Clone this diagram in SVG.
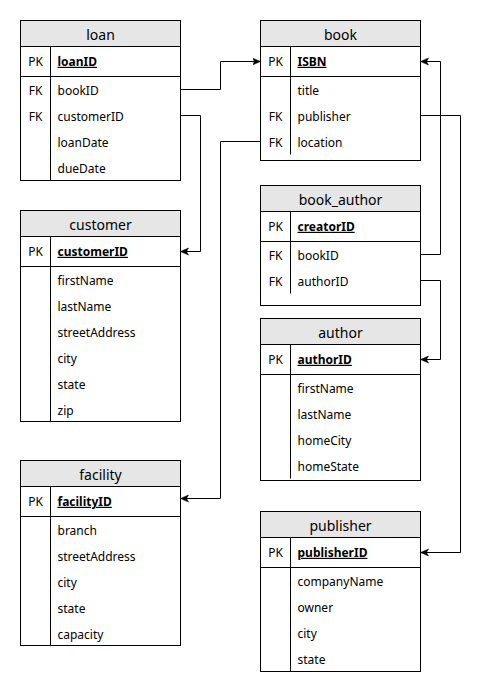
<svg xmlns="http://www.w3.org/2000/svg" width="489" height="694" viewBox="0 0 489 694">
<defs>
<style>
.tb{fill:#ffffff;stroke:#000000;stroke-width:1}
.hd{fill:#e6e6e6;stroke:#000000;stroke-width:1}
.ln{stroke:#000000;stroke-width:1;fill:none}
.title{font-family:"Noto Sans","Open Sans",sans-serif;font-size:14px;fill:#000;text-anchor:middle}
.key{font-family:"Noto Sans","Open Sans",sans-serif;font-size:12px;fill:#000;text-anchor:middle}
.fld{font-family:"Noto Sans","Open Sans",sans-serif;font-size:12px;fill:#000}
.pk{font-family:"Noto Sans","Open Sans",sans-serif;font-size:12px;fill:#000;font-weight:bold;text-decoration:underline}
.conn{stroke:#000000;stroke-width:1;fill:none;marker-end:url(#arr)}
</style>
<marker id="arr" markerUnits="userSpaceOnUse" markerWidth="10" markerHeight="10" viewBox="0 0 10 10" refX="8" refY="5" orient="auto">
<path d="M0,1.5 L8,5 L0,8.5 L2,5 Z" fill="#000" stroke="#000" stroke-width="0.5"/>
</marker>
</defs>
<rect width="489" height="694" fill="#ffffff"/>

<g id="loan">
<rect class="tb" x="20.5" y="20.5" width="160" height="160"/>
<rect class="hd" x="20.5" y="20.5" width="160" height="26"/>
<line class="ln" x1="20.5" y1="76.5" x2="180.5" y2="76.5"/>
<line class="ln" x1="50.5" y1="46.5" x2="50.5" y2="180.5"/>
<text class="title" x="100.5" y="40">loan</text>
<text class="key" x="35.5" y="65.8">PK</text><text class="pk" x="57.5" y="65.8">loanID</text>
<text class="key" x="35.5" y="95.3">FK</text><text class="fld" x="57.5" y="95.3">bookID</text>
<text class="key" x="35.5" y="121.3">FK</text><text class="fld" x="57.5" y="121.3">customerID</text>
<text class="fld" x="57.5" y="147.3">loanDate</text>
<text class="fld" x="57.5" y="173.3">dueDate</text>
</g>

<g id="customer">
<rect class="tb" x="20.5" y="210.5" width="160" height="211"/>
<rect class="hd" x="20.5" y="210.5" width="160" height="26"/>
<line class="ln" x1="20.5" y1="266.5" x2="180.5" y2="266.5"/>
<line class="ln" x1="50.5" y1="236.5" x2="50.5" y2="421.5"/>
<text class="title" x="100.5" y="230">customer</text>
<text class="key" x="35.5" y="255.8">PK</text><text class="pk" x="57.5" y="255.8">customerID</text>
<text class="fld" x="57.5" y="285.3">firstName</text>
<text class="fld" x="57.5" y="311.3">lastName</text>
<text class="fld" x="57.5" y="337.3">streetAddress</text>
<text class="fld" x="57.5" y="363.3">city</text>
<text class="fld" x="57.5" y="389.3">state</text>
<text class="fld" x="57.5" y="415.3">zip</text>
</g>

<g id="facility">
<rect class="tb" x="20.5" y="460.5" width="160" height="185"/>
<rect class="hd" x="20.5" y="460.5" width="160" height="26"/>
<line class="ln" x1="20.5" y1="516.5" x2="180.5" y2="516.5"/>
<line class="ln" x1="50.5" y1="486.5" x2="50.5" y2="645.5"/>
<text class="title" x="100.5" y="480">facility</text>
<text class="key" x="35.5" y="505.8">PK</text><text class="pk" x="57.5" y="505.8">facilityID</text>
<text class="fld" x="57.5" y="535.3">branch</text>
<text class="fld" x="57.5" y="561.3">streetAddress</text>
<text class="fld" x="57.5" y="587.3">city</text>
<text class="fld" x="57.5" y="613.3">state</text>
<text class="fld" x="57.5" y="639.3">capacity</text>
</g>

<g id="book">
<rect class="tb" x="260.5" y="20.5" width="160" height="140"/>
<rect class="hd" x="260.5" y="20.5" width="160" height="26"/>
<line class="ln" x1="260.5" y1="76.5" x2="420.5" y2="76.5"/>
<line class="ln" x1="290.5" y1="46.5" x2="290.5" y2="154.5"/>
<text class="title" x="340.5" y="40">book</text>
<text class="key" x="275.5" y="65.8">PK</text><text class="pk" x="297.5" y="65.8">ISBN</text>
<text class="fld" x="297.5" y="95.3">title</text>
<text class="key" x="275.5" y="121.3">FK</text><text class="fld" x="297.5" y="121.3">publisher</text>
<text class="key" x="275.5" y="147.3">FK</text><text class="fld" x="297.5" y="147.3">location</text>
</g>

<g id="book_author">
<rect class="tb" x="260.5" y="185.5" width="160" height="120"/>
<rect class="hd" x="260.5" y="185.5" width="160" height="26"/>
<line class="ln" x1="260.5" y1="241.5" x2="420.5" y2="241.5"/>
<line class="ln" x1="290.5" y1="211.5" x2="290.5" y2="293.5"/>
<text class="title" x="340.5" y="205">book_author</text>
<text class="key" x="275.5" y="230.8">PK</text><text class="pk" x="297.5" y="230.8">creatorID</text>
<text class="key" x="275.5" y="260.3">FK</text><text class="fld" x="297.5" y="260.3">bookID</text>
<text class="key" x="275.5" y="286.3">FK</text><text class="fld" x="297.5" y="286.3">authorID</text>
</g>

<g id="author">
<rect class="tb" x="260.5" y="318.5" width="160" height="162"/>
<rect class="hd" x="260.5" y="318.5" width="160" height="26"/>
<line class="ln" x1="260.5" y1="374.5" x2="420.5" y2="374.5"/>
<line class="ln" x1="290.5" y1="344.5" x2="290.5" y2="478.5"/>
<text class="title" x="340.5" y="338">author</text>
<text class="key" x="275.5" y="363.8">PK</text><text class="pk" x="297.5" y="363.8">authorID</text>
<text class="fld" x="297.5" y="393.3">firstName</text>
<text class="fld" x="297.5" y="419.3">lastName</text>
<text class="fld" x="297.5" y="445.3">homeCity</text>
<text class="fld" x="297.5" y="471.3">homeState</text>
</g>

<g id="publisher">
<rect class="tb" x="260.5" y="511.5" width="160" height="160"/>
<rect class="hd" x="260.5" y="511.5" width="160" height="26"/>
<line class="ln" x1="260.5" y1="567.5" x2="420.5" y2="567.5"/>
<line class="ln" x1="290.5" y1="537.5" x2="290.5" y2="671.5"/>
<text class="title" x="340.5" y="531">publisher</text>
<text class="key" x="275.5" y="556.8">PK</text><text class="pk" x="297.5" y="556.8">publisherID</text>
<text class="fld" x="297.5" y="586.3">companyName</text>
<text class="fld" x="297.5" y="612.3">owner</text>
<text class="fld" x="297.5" y="638.3">city</text>
<text class="fld" x="297.5" y="664.3">state</text>
</g>

<g id="connectors">
<path class="conn" d="M180.5 89.5 H220.5 V61.5 H260.5"/>
<path class="conn" d="M180.5 115.5 H200.5 V251.5 H180.5"/>
<path class="conn" d="M260.5 141.5 H220.5 V498.5 H180.5"/>
<path class="conn" d="M420.5 115.5 H460.5 V552.5 H420.5"/>
<path class="conn" d="M420.5 254.5 H440.5 V61.5 H420.5"/>
<path class="conn" d="M420.5 280.5 H440.5 V359.5 H420.5"/>
</g>
</svg>
